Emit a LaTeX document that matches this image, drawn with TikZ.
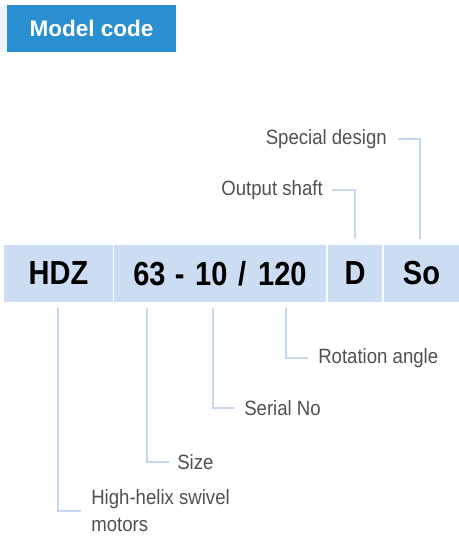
\documentclass[tikz,border=0pt]{standalone}
\usepackage{fontspec}
\setmainfont{Liberation Sans}
\newfontfamily\codefont[FakeStretch=0.87]{Liberation Sans}
\newfontfamily\lblfont[FakeStretch=0.9]{Liberation Sans}
\definecolor{hdrblue}{HTML}{2A8FD0}
\definecolor{stripcol}{HTML}{EEF3FA}
\definecolor{barblue}{HTML}{CCDCF2}
\definecolor{linkblue}{HTML}{C6D8F1}
\definecolor{labelgrey}{HTML}{505050}
\tikzset{
  header/.style={fill=hdrblue, text=white, inner sep=0pt, minimum width=126.75pt, minimum height=35.25pt,
    font=\fontsize{16.9}{20}\selectfont\bfseries},
  codebox/.style={fill=barblue, text=black, inner sep=0pt, minimum height=42.75pt,
    font=\codefont\fontsize{25}{30}\selectfont\bfseries},
  lbl/.style={text=labelgrey, inner sep=0pt, font=\lblfont\fontsize{15.5}{20.25}\selectfont},
  link/.style={draw=linkblue, line width=1.5pt}
}
\begin{document}
\begin{tikzpicture}[x=0.75pt,y=-0.75pt]
\useasboundingbox (0,0) rectangle (459,540);
\fill[stripcol] (0,5) rectangle (7,52);
\node[header] (hdr) at (91.5,28.5) {Model code};
% code bar
\node[codebox, minimum width=81.75pt] (hdz) at (58.5,273.5) {HDZ};
\node[codebox, minimum width=159pt] (num) at (220,273.5) {63\hspace{7pt}-\hspace{8pt}10\hspace{8pt}/\hspace{9pt}120};
\node[codebox, minimum width=40.5pt] (d) at (355,273.5) {D};
\node[codebox, minimum width=56.25pt] (so) at (421.5,273.5) {So};
% top labels
\node[lbl, anchor=east] (spec) at (387,139) {Special design};
\node[lbl, anchor=east] (shaft) at (323,190) {Output shaft};
\coordinate (tSo) at (420,239);
\coordinate (tD) at (355,239);
\draw[link] ([xshift=8pt]spec.east) -| (tSo);
\draw[link] ([xshift=7pt]shaft.east) -| (tD);
% bottom labels
\node[lbl, anchor=west] (rot) at (318,358) {Rotation angle};
\node[lbl, anchor=west] (ser) at (244,408) {Serial No};
\node[lbl, anchor=west] (size) at (177,462) {Size};
\node[lbl, anchor=west, align=left] (motor) at (91,511) {High-helix swivel\\motors};
\coordinate (bHDZ) at (58,308);
\coordinate (b63) at (147,308);
\coordinate (b10) at (213,308);
\coordinate (b120) at (286,308);
\draw[link] (b120) |- ([xshift=-7.5pt]rot.west);
\draw[link] (b10) |- ([xshift=-7.5pt]ser.west);
\draw[link] (b63) |- ([xshift=-6pt]size.west);
\draw[link] (bHDZ) |- ([xshift=-7.5pt]motor.west);
\end{tikzpicture}
\end{document}
